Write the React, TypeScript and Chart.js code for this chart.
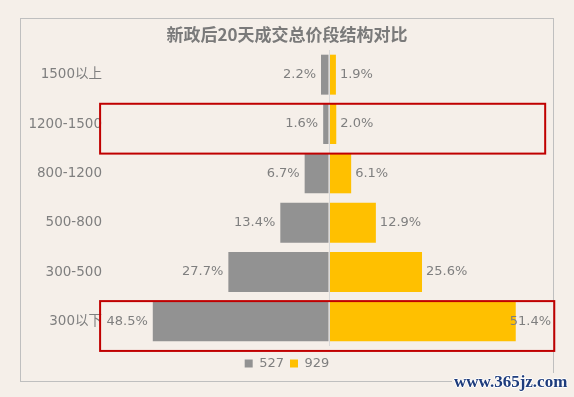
import React, { useEffect, useRef } from 'react';
import { Chart, registerables } from 'chart.js';

Chart.register(...registerables);

const categories = ['1500以上', '1200-1500', '800-1200', '500-800', '300-500', '300以下'];
const seriesNames = ['527', '929'];
const values527 = [2.2, 1.6, 6.7, 13.4, 27.7, 48.5];
const values929 = [1.9, 2.0, 6.1, 12.9, 25.6, 51.4];
const highlightedCategories = ['1200-1500', '300以下'];
const titleText = '新政后20天成交总价段结构对比';
const watermarkText = 'www.365jz.com';

const BG = '#f5efe9';
const TEXT = '#7f7f7f';
const GRAY = '#929292';
const GOLD = '#ffc000';
const FONT = '"DejaVu Sans", "Noto Sans CJK SC", sans-serif';
const TITLE_FONT = '"Noto Sans CJK SC", "Noto Sans", sans-serif';

const bgFramePlugin = {
  id: 'bgFrame',
  beforeDraw(chart: any) {
    const { ctx, width, height } = chart;
    ctx.save();
    ctx.fillStyle = BG;
    ctx.fillRect(0, 0, width, height);
    ctx.strokeStyle = '#bfbfbf';
    ctx.lineWidth = 1;
    ctx.strokeRect(20.5, 18.5, 533, 363);
    ctx.restore();
  },
};

const valueLabelPlugin = {
  id: 'valueLabels',
  afterDatasetsDraw(chart: any) {
    const { ctx } = chart;
    ctx.save();
    ctx.font = `13px ${FONT}`;
    ctx.fillStyle = TEXT;
    ctx.textBaseline = 'middle';
    chart.data.datasets.forEach((ds: any, di: number) => {
      const meta = chart.getDatasetMeta(di);
      meta.data.forEach((el: any, i: number) => {
        const v = Math.abs(ds.data[i]);
        const txt = v.toFixed(1) + '%';
        if (di === 0) {
          ctx.textAlign = 'right';
          ctx.fillText(txt, el.x - 5, el.y);
        } else {
          const w = ctx.measureText(txt).width;
          const limit = 551;
          if (el.x + 4 + w > limit) {
            ctx.textAlign = 'right';
            ctx.fillText(txt, limit, el.y);
          } else {
            ctx.textAlign = 'left';
            ctx.fillText(txt, el.x + 4, el.y);
          }
        }
      });
    });
    ctx.restore();
  },
};

const highlightPlugin = {
  id: 'highlightBoxes',
  afterDraw(chart: any) {
    const { ctx } = chart;
    const xs = chart.scales.x;
    const ys = chart.scales.y;
    const extents = [[-63, 59.5], [-63, 62]];
    ctx.save();
    ctx.strokeStyle = '#c00000';
    ctx.lineWidth = 2;
    highlightedCategories.forEach((cat, k) => {
      const idx = categories.indexOf(cat);
      const yc = ys.getPixelForValue(idx);
      const band = ys.height / categories.length;
      const top = yc - 0.41 * band;
      const bottom = yc + 0.6 * band;
      const left = xs.getPixelForValue(extents[k][0]);
      const right = xs.getPixelForValue(extents[k][1]);
      ctx.strokeRect(left, top, right - left, bottom - top);
    });
    ctx.restore();
  },
};

export default function App() {
  const ref = useRef<HTMLCanvasElement | null>(null);

  useEffect(() => {
    document.body.style.margin = '0';
    document.body.style.background = BG;
    const canvas = ref.current;
    if (!canvas) return;
    const chart = new Chart(canvas, {
      type: 'bar',
      data: {
        labels: categories,
        datasets: [
          {
            label: seriesNames[0],
            data: values527.map((v) => -v),
            backgroundColor: GRAY,
            borderWidth: 0,
          },
          {
            label: seriesNames[1],
            data: values929,
            backgroundColor: GOLD,
            borderWidth: 0,
          },
        ],
      },
      options: {
        indexAxis: 'y',
        responsive: false,
        animation: false,
        devicePixelRatio: 1,
        layout: { padding: { left: 27, right: 27, top: 0, bottom: 17 } },
        datasets: {
          bar: { barPercentage: 0.81, categoryPercentage: 1 },
        },
        scales: {
          x: {
            stacked: true,
            min: -60,
            max: 60,
            ticks: { display: false, stepSize: 10 },
            border: { display: false },
            grid: {
              drawTicks: false,
              z: 1,
              color: (c: any) => (c.tick && c.tick.value === 0 ? '#d9d9d9' : 'rgba(0,0,0,0)'),
              lineWidth: 1,
            },
            afterFit: (s: any) => {
              s.height = 5;
            },
          },
          y: {
            stacked: true,
            ticks: {
              color: TEXT,
              font: { family: FONT, size: 13.5 },
              padding: 9,
            },
            border: { display: false },
            grid: { display: false, drawTicks: false },
            afterFit: (s: any) => {
              s.width = 84;
            },
          },
        },
        plugins: {
          title: {
            display: true,
            text: titleText,
            color: '#7a7a7a',
            font: { family: TITLE_FONT, size: 17, weight: 'bold', lineHeight: 1.2 },
            padding: { top: 24, bottom: 5.6 },
          },
          legend: {
            display: true,
            position: 'bottom',
            labels: {
              color: TEXT,
              font: { family: FONT, size: 13 },
              boxWidth: 8,
              boxHeight: 8,
              padding: 6,
            },
          },
          tooltip: { enabled: false },
        },
      },
      plugins: [bgFramePlugin, valueLabelPlugin, highlightPlugin],
    } as any);
    return () => chart.destroy();
  }, []);

  return (
    <div style={{ position: 'fixed', left: 0, top: 0, width: 574, height: 397, background: BG }}>
      <canvas ref={ref} width={574} height={397} style={{ display: 'block', width: 574, height: 397 }} />
      <div
        style={{
          position: 'absolute',
          left: 452,
          top: 373,
          fontFamily: '"Liberation Serif", serif',
          fontWeight: 'bold',
          fontSize: 17,
          lineHeight: '17px',
          color: '#1e3c7c',
          background: BG,
          padding: '0 2px',
          textShadow: '1px 0 #fff, -1px 0 #fff, 0 1px #fff, 0 -1px #fff',
          whiteSpace: 'nowrap',
        }}
      >
        {watermarkText}
      </div>
    </div>
  );
}
